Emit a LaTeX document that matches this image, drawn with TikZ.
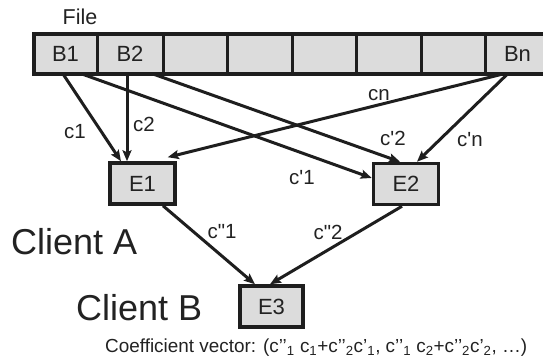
\documentclass[tikz,border=0pt]{standalone}
\usepackage{fontspec}
\setmainfont{Liberation Sans}
\usetikzlibrary{arrows.meta}
\definecolor{cellgray}{HTML}{DCDCDC}
\definecolor{ink}{HTML}{1E1E1E}
\definecolor{txt}{HTML}{222222}
\newcommand{\sq}{\textquotesingle}
\newcommand{\dq}{\textquotedbl}
\tikzset{
  cell/.style={draw=ink, fill=cellgray, line width=3pt, minimum height=40pt,
    inner sep=0pt, outer sep=0pt, text=txt, font=\fontsize{22}{26}\selectfont},
  encoder/.style={draw=ink, fill=cellgray, line width=3.5pt, minimum width=65pt,
    minimum height=41pt, inner sep=0pt, text=txt, font=\fontsize{22}{26}\selectfont},
  lbl/.style={text=txt, inner sep=0pt, font=\fontsize{20.5}{24}\selectfont},
  big/.style={text=txt, inner sep=0pt, font=\fontsize{36}{42}\selectfont},
  flow/.style={draw=ink, line width=3pt, -{Stealth[length=11pt,width=9pt,inset=2pt]}},
}
\begin{document}
\begin{tikzpicture}[x=1pt, y=-1pt]
\useasboundingbox (0,0) rectangle (543,361);

% file blocks
\node[cell, minimum width=63pt] (B1) at (65.5,54) {B1};
\node[cell, minimum width=66pt] (B2) at (130,54) {B2};
\node[cell, minimum width=64pt] (K3) at (195,54) {};
\node[cell, minimum width=65pt] (K4) at (259.5,54) {};
\node[cell, minimum width=64pt] (K5) at (324,54) {};
\node[cell, minimum width=65pt] (K6) at (388.5,54) {};
\node[cell, minimum width=64pt] (K7) at (453,54) {};
\node[cell, minimum width=65pt] (Bn) at (517.5,54) {Bn};
\draw[ink, line width=4pt] (B1.north west) rectangle (Bn.south east);
\node[lbl, font=\fontsize{21.5}{25}\selectfont] (file) at (80,17) {File};

% encoders
\node[encoder] (E1) at (142.5,183.5) {E1};
\node[encoder] (E2) at (406,184) {E2};
\node[encoder, minimum width=63pt] (E3) at (271.5,306.5) {E3};

% client A
\draw[flow] ([xshift=-2.5pt]B1.south) -- ([xshift=-21.5pt]E1.north);
\draw[flow] ([xshift=-3pt]B2.south) -- ([xshift=-15.5pt]E1.north);
\draw[flow] ([xshift=-14.5pt]Bn.south) -- ([xshift=-9pt,yshift=4pt]E1.north east);
\draw[flow] ([xshift=16.5pt]B1.south) -- ([yshift=6pt]E2.west);
\draw[flow] ([xshift=23pt]B2.south) -- ([xshift=-6pt]E2.north);
\draw[flow] ([xshift=-10pt]Bn.south) -- ([xshift=11pt]E2.north);

% client B
\draw[flow] ([xshift=20.5pt]E1.south) -- ([xshift=-16.5pt]E3.north);
\draw[flow] ([xshift=-4pt]E2.south) -- ([xshift=-1.5pt]E3.north);

% coefficient labels
\node[lbl] (l1) at (75,132) {c1};
\node[lbl] (l2) at (144,124) {c2};
\node[lbl] (ln) at (379,95) {cn};
\node[lbl] (m2) at (393,138) {c\sq2};
\node[lbl] (mn) at (470,140) {c\sq n};
\node[lbl] (m1) at (302,178) {c\sq1};
\node[lbl] (p1) at (222,232) {c\dq1};
\node[lbl] (p2) at (328,232) {c\dq2};

\node[big, anchor=west] (ca) at (11,242) {Client A};
\node[big, anchor=west] (cb) at (76,307.5) {Client B};

\node[text=txt, inner sep=0pt, anchor=base west, font=\fontsize{18.9}{22}\selectfont] (vec) at (105,352)
  {Coefficient vector: (c’’\textsubscript{1} c\textsubscript{1}+c’’\textsubscript{2}c’\textsubscript{1}, c’’\textsubscript{1} c\textsubscript{2}+c’’\textsubscript{2}c’\textsubscript{2}, …)};
\end{tikzpicture}
\end{document}
